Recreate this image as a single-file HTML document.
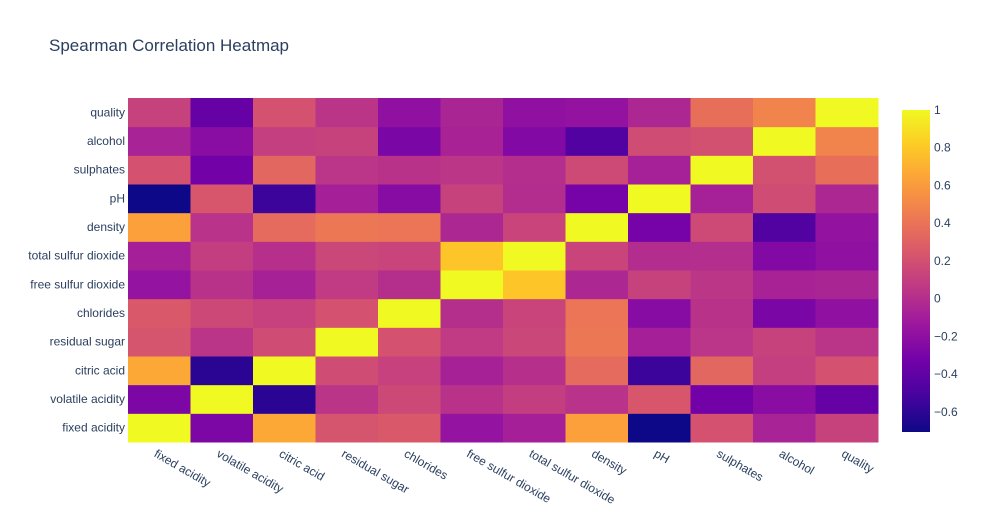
<!DOCTYPE html>
<html><head><meta charset="utf-8"><style>
body{margin:0;background:#fff;font-family:"Liberation Sans",sans-serif;}
svg text{font-family:"Liberation Sans",sans-serif;fill:#2a3f5f;}
</style></head><body>
<svg id="chart" width="983" height="525" xmlns="http://www.w3.org/2000/svg">
<rect width="983" height="525" fill="#fff"/>
<text x="49" y="51" font-size="17">Spearman Correlation Heatmap</text>
<g id="cells"></g><g id="xlabels"></g><g id="ylabels"></g>
<defs><linearGradient id="cbgrad" x1="0" y1="1" x2="0" y2="0" id2="g"></linearGradient></defs>
<rect x="902" y="110" width="28" height="322" fill="url(#cbgrad)"/>
<g id="cbticks"></g>
</svg>
<script>
const labels=["fixed acidity","volatile acidity","citric acid","residual sugar","chlorides","free sulfur dioxide","total sulfur dioxide","density","pH","sulphates","alcohol","quality"];
const upper=[
[-0.278,0.661,0.221,0.251,-0.176,-0.088,0.623,-0.707,0.212,-0.067,0.114],
[-0.611,0.032,0.159,0.021,0.094,0.025,0.234,-0.326,-0.224,-0.381],
[0.176,0.113,-0.077,0.011,0.352,-0.548,0.332,0.097,0.213],
[0.212,0.074,0.145,0.422,-0.090,0.039,0.117,0.032],
[0.001,0.130,0.411,-0.234,0.021,-0.285,-0.190],
[0.790,-0.041,0.116,0.046,-0.070,-0.057],
[0.129,-0.010,0.000,-0.257,-0.197],
[-0.312,0.161,-0.462,-0.177],
[-0.080,0.179,-0.044],
[0.208,0.377],
[0.479]];
const cbTicks=[-0.6,-0.4,-0.2,0,0.2,0.4,0.6,0.8,1];
const zmin=-0.707,zmax=1;
const n=labels.length;
const X0=128,X1=878,Y0=98,Y1=442,cw=(X1-X0)/n,ch=(Y1-Y0)/n;
const stops=['#0d0887','#46039f','#7201a8','#9c179e','#bd3786','#d8576b','#ed7953','#fb9f3a','#fdca26','#f0f921'];
function hex(h){return [1,3,5].map(i=>parseInt(h.substr(i,2),16));}
function color(v){let t=(v-zmin)/(zmax-zmin);t=Math.max(0,Math.min(1,t))*(stops.length-1);const i=Math.min(Math.floor(t),stops.length-2),f=t-i;const a=hex(stops[i]),b=hex(stops[i+1]);return 'rgb('+a.map((c,k)=>Math.round(c+(b[k]-c)*f)).join(',')+')';}
function val(i,j){if(i===j)return 1;const a=Math.min(i,j),b=Math.max(i,j);return upper[a][b-a-1];}
const xs=j=>X0+j*cw, ys=i=>Y1-(i+1)*ch;
const NS="http://www.w3.org/2000/svg";
const cells=document.getElementById('cells');
for(let i=0;i<n;i++)for(let j=0;j<n;j++){
 const r=document.createElementNS(NS,'rect');
 r.setAttribute('x',xs(j));r.setAttribute('y',ys(i));r.setAttribute('width',cw+0.5);r.setAttribute('height',ch+0.5);
 r.setAttribute('fill',color(val(i,j)));
 
 
 cells.appendChild(r);}
const xl=document.getElementById('xlabels'),yl=document.getElementById('ylabels');
labels.forEach((l,k)=>{
 const t=document.createElementNS(NS,'text');
 const cx=xs(k)+cw/2,cy=Y1+10;
 t.setAttribute('transform','translate('+(cx-6)+','+(cy+4)+') rotate(30)');
 t.setAttribute('font-size','12');t.textContent=l;
 
 
 xl.appendChild(t);
 const u=document.createElementNS(NS,'text');
 u.setAttribute('x',125);u.setAttribute('y',ys(k)+ch/2+4);u.setAttribute('text-anchor','end');u.setAttribute('font-size','12');u.textContent=l;
 
 
 yl.appendChild(u);});
const g=document.getElementById('cbgrad');
stops.forEach((s,k)=>{const st=document.createElementNS(NS,'stop');st.setAttribute('offset',k/(stops.length-1));st.setAttribute('stop-color',s);g.appendChild(st);});
const cbt=document.getElementById('cbticks');
const cy=v=>432-(v-zmin)/(zmax-zmin)*322;
cbTicks.forEach(v=>{
 const t=document.createElementNS(NS,'text');
 t.setAttribute('x',934);t.setAttribute('y',cy(v)+4);t.setAttribute('font-size','12');
 t.textContent=(v<0?'−':'')+Math.abs(v);
 
 
 cbt.appendChild(t);});
</script>
</body></html>
